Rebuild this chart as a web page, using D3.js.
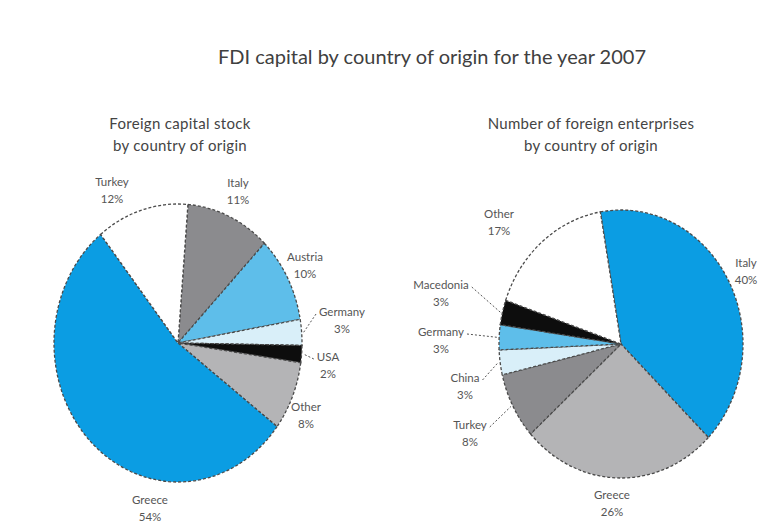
<!DOCTYPE html>
<html><head><meta charset="utf-8">
<script src="https://cdn.jsdelivr.net/npm/d3@7"></script>
<style>
html,body{margin:0;padding:0;background:#fff;}
svg{display:block;}
text{font-family:"Lato","Open Sans",sans-serif;}
</style></head>
<body>
<script>
// ---- data ----
const title = "FDI capital by country of origin for the year 2007";
const leftTitle = ["Foreign capital stock", "by country of origin"];
const rightTitle = ["Number of foreign enterprises", "by country of origin"];

const leftCountries = ["Italy", "Austria", "Germany", "USA", "Other", "Greece", "Turkey"];
const leftValues    = [11, 10, 3, 2, 8, 54, 12];

const rightCountries = ["Italy", "Greece", "Turkey", "China", "Germany", "Macedonia", "Other"];
const rightValues    = [40, 26, 8, 3, 3, 3, 17];

// ---- styles / layout ----
const colors = {
  Greece_L: "#0b9de3", Italy_L: "#8b8b8e", Austria: "#5ebeea", Germany_L: "#d9eff9",
  USA: "#0d0d0d", Other_L: "#b4b4b6", Turkey_L: "#ffffff",
  Italy_R: "#0b9de3", Greece_R: "#b4b4b6", Turkey_R: "#8b8b8e", China: "#d9eff9",
  Germany_R: "#5ebeea", Macedonia: "#0d0d0d", Other_R: "#ffffff"
};

const leftLayout = {
  Italy:   {dx: 60,  dy: -160},
  Turkey:  {dx: -66, dy: -161},
  Austria: {dx: 127, dy: -86},
  Germany: {dx: 164, dy: -31, leader: true},
  USA:     {dx: 150, dy: 14, leader: true},
  Other:   {dx: 128, dy: 64},
  Greece:  {dx: -28, dy: 157}
};
const rightLayout = {
  Italy:     {dx: 125,  dy: -81},
  Greece:    {dx: -9,   dy: 151},
  Turkey:    {dx: -151, dy: 81, leader: true},
  China:     {dx: -156, dy: 34, leader: true},
  Germany:   {dx: -180, dy: -12, leader: true},
  Macedonia: {dx: -180, dy: -59, leader: true},
  Other:     {dx: -122, dy: -130}
};

const W = 768, H = 527;
const svg = d3.select("body").append("svg").attr("width", W).attr("height", H);
svg.append("rect").attr("width", W).attr("height", H).attr("fill", "#fff");

svg.append("text").attr("x", 432).attr("y", 64).attr("text-anchor", "middle")
  .attr("font-size", 20).attr("fill", "#404040").text(title);

function subtitle(lines, cx) {
  lines.forEach((l, i) => {
    svg.append("text").attr("x", cx).attr("y", 129 + i * 22).attr("text-anchor", "middle")
      .attr("font-size", 15).attr("letter-spacing", 0.3).attr("fill", "#444").text(l);
  });
}
subtitle(leftTitle, 180);
subtitle(rightTitle, 591);

function drawPie(cfg) {
  const {names, values, suffix, cx, cy, rx, ry, start, layout} = cfg;
  const pie = d3.pie().sort(null).value(d => d.v).startAngle(start).endAngle(start + 2 * Math.PI);
  const data = pie(names.map((n, i) => ({n, v: values[i]})));
  const arc = d3.arc().innerRadius(0).outerRadius(ry);
  const g = svg.append("g").attr("transform", `translate(${cx},${cy}) scale(${rx / ry},1)`);
  g.selectAll("path").data(data).join("path")
    .attr("d", arc)
    .attr("fill", d => colors[d.data.n + suffix] || colors[d.data.n])
    .attr("stroke", "#4a4a4a").attr("stroke-width", 1.3)
    .attr("stroke-dasharray", "3,2")
    .attr("vector-effect", "non-scaling-stroke");

  const lg = svg.append("g");
  data.forEach(d => {
    const L = layout[d.data.n];
    const x = cx + L.dx, y = cy + L.dy;
    const t1 = lg.append("text").attr("x", x).attr("y", y + 4).attr("text-anchor", "middle")
      .attr("font-size", 11.5).attr("fill", "#555").text(d.data.n);
    lg.append("text").attr("x", x).attr("y", y + 21).attr("text-anchor", "middle")
      .attr("font-size", 11.5).attr("fill", "#555").text(d.data.v + "%");
    if (L.leader) {
      const a = (d.startAngle + d.endAngle) / 2;
      const ex = cx + rx * Math.sin(a), ey = cy - ry * Math.cos(a);
      const w = t1.node().getComputedTextLength();
      const side = Math.sin(a) > 0 ? -1 : 1;
      const lx = x + side * (w / 2 + 3);
      lg.append("path")
        .attr("d", `M${lx},${y + 2}L${ex + side * -2},${ey}`)
        .attr("fill", "none").attr("stroke", "#555").attr("stroke-width", 1)
        .attr("stroke-dasharray", "2,2");
    }
  });
}

drawPie({names: leftCountries, values: leftValues, suffix: "_L",
  cx: 178, cy: 343, rx: 124, ry: 139, start: 0.08, layout: leftLayout});
drawPie({names: rightCountries, values: rightValues, suffix: "_R",
  cx: 621, cy: 344, rx: 122, ry: 134, start: -0.17, layout: rightLayout});
</script>
</body></html>
